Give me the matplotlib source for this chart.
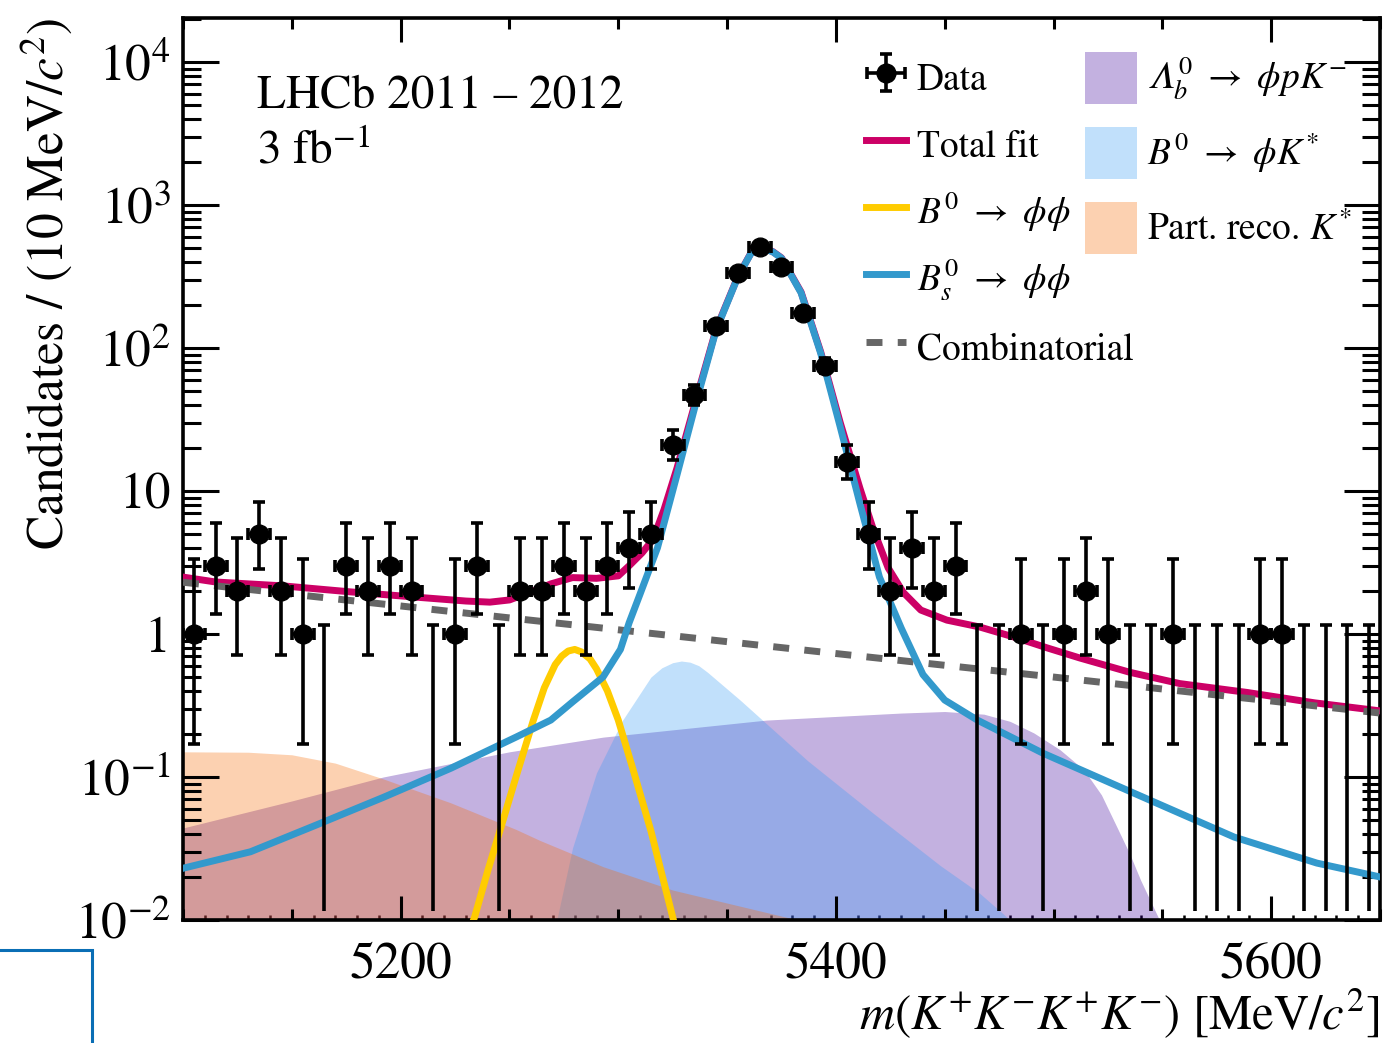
import numpy as np
import matplotlib
matplotlib.use('Agg')
import matplotlib.pyplot as plt
from matplotlib.ticker import MultipleLocator, LogLocator, NullFormatter
from matplotlib.patches import Rectangle

plt.rcParams['font.family'] = ['STIXGeneral', 'DejaVu Serif']
plt.rcParams['mathtext.fontset'] = 'stix'

# --- dane: histogram 10 MeV od 5100 ---
BIN_LO, BIN_W = 5100, 10
COUNTS = [1, 3, 2, 5, 2, 1, 0, 3, 2, 3,
          2, 0, 1, 3, 0, 2, 2, 3, 2, 3,
          4, 5, 21, 47, 142, 335, 510, 368, 176, 75,
          16, 5, 2, 4, 2, 3, 0, 0, 1, 0,
          1, 2, 1, 0, 0, 1, 0, 0, 0, 1,
          1, 0, 0, 0, 0]
ZERO_UP = 1.15  # górny błąd dla pustych binów

# --- krzywe fitu ---
TOT_X = [5100, 5115, 5146, 5177, 5207, 5230, 5241, 5250, 5260, 5269, 5279, 5290, 5300,
         5305, 5311, 5316, 5321, 5327, 5336, 5345, 5355, 5361, 5366, 5371, 5375, 5384,
         5393, 5402, 5411, 5417, 5424, 5431, 5439, 5451, 5466, 5482, 5497, 5512, 5535,
         5558, 5589, 5620, 5650]
TOT_Y = [2.50, 2.31, 2.17, 1.97, 1.81, 1.70, 1.67, 1.73, 1.97, 2.24, 2.48, 2.45, 2.55,
         3.0, 3.7, 4.6, 7.4, 14.5, 45, 136, 317, 462, 502, 472, 427, 246,
         94, 30, 10.5, 5.5, 2.9, 1.95, 1.47, 1.25, 1.12, 0.95, 0.80, 0.68, 0.54,
         0.45, 0.39, 0.33, 0.29]

BS_X = [5100, 5131, 5161, 5192, 5223, 5253, 5269, 5279, 5293, 5301, 5305, 5310, 5318,
        5327, 5336, 5345, 5355, 5361, 5366, 5371, 5375, 5384, 5393, 5402, 5411, 5420,
        5430, 5440, 5450, 5465, 5495, 5537, 5583, 5621, 5650]
BS_Y = [0.023, 0.030, 0.046, 0.072, 0.115, 0.19, 0.25, 0.335, 0.50, 0.78, 1.2, 1.9, 4.0,
        13.0, 43, 134, 315, 460, 500, 470, 425, 243, 92, 28, 8.2, 2.5,
        1.1, 0.52, 0.345, 0.25, 0.147, 0.077, 0.038, 0.025, 0.020]

B0_X = [5228, 5234, 5240, 5246, 5253, 5261, 5266, 5271, 5274, 5277, 5280, 5283, 5287,
        5290, 5295, 5300, 5307, 5315, 5320, 5325, 5330]
B0_Y = [0.006, 0.0105, 0.022, 0.044, 0.10, 0.25, 0.42, 0.61, 0.70, 0.76, 0.78, 0.75, 0.67,
        0.57, 0.40, 0.25, 0.11, 0.042, 0.021, 0.0105, 0.005]

COMB_X = [5100, 5200, 5300, 5400, 5500, 5600, 5650]
COMB_Y = [2.30, 1.57, 1.07, 0.73, 0.50, 0.34, 0.28]

LB_X = [5100, 5150, 5192, 5250, 5293, 5368, 5430, 5450, 5468, 5480, 5491, 5503, 5514,
        5522, 5529, 5535, 5540, 5548, 5556]
LB_Y = [0.044, 0.068, 0.10, 0.15, 0.19, 0.25, 0.28, 0.287, 0.275, 0.245, 0.203, 0.155,
        0.112, 0.075, 0.045, 0.029, 0.019, 0.0105, 0.005]

KST_X = [5268, 5272, 5279, 5290, 5302, 5315, 5320, 5325, 5329, 5333, 5337, 5341, 5356,
         5387, 5417, 5448, 5466, 5477, 5490]
KST_Y = [0.006, 0.0104, 0.032, 0.107, 0.25, 0.50, 0.58, 0.63, 0.647, 0.635, 0.60, 0.54,
         0.345, 0.13, 0.056, 0.024, 0.0154, 0.011, 0.007]

PR_X = [5100, 5130, 5150, 5170, 5192, 5223, 5253, 5264, 5293, 5325, 5379, 5420]
PR_Y = [0.150, 0.149, 0.143, 0.125, 0.097, 0.066, 0.043, 0.036, 0.0236, 0.0162, 0.0103,
        0.007]

YTICKS = [1e-2, 1e-1, 1, 10, 1e2, 1e3, 1e4]
YTICK_LABELS = ['$10^{-2}$', '$10^{-1}$', '1', '10', '$10^{2}$', '$10^{3}$', '$10^{4}$']
XTICKS = [5200, 5400, 5600]

C_TOT = '#cc0066'
C_BS = '#3399cc'
C_B0 = '#ffcc00'
C_COMB = '#666666'
C_LB = '#3e039b'
C_KST = '#379bf5'
C_PR = '#f86b03'
FILL_ALPHA = 0.31
YMIN, YMAX = 1e-2, 2.03e4


def poisson_band(n):
    # przybliżenie Gehrelsa dla przedziałów 68%
    n = np.asarray(n, float)
    lo = n * (1 - 1 / (9 * n) - 1 / (3 * np.sqrt(n))) ** 3
    hi = n + np.sqrt(n + 0.75) + 1
    return lo, hi


fig = plt.figure(figsize=(13.84, 10.43), dpi=100)
ax = fig.add_axes([183 / 1384, 1 - 920 / 1043, 1197 / 1384, 902 / 1043])
ax.set_yscale('log')
ax.set_xlim(5100, 5650)
ax.set_ylim(YMIN, YMAX)

# tła (wypełnienia)
h_lb = ax.fill_between(LB_X, 1e-3, LB_Y, color=C_LB, alpha=FILL_ALPHA, lw=0, zorder=1)
h_kst = ax.fill_between(KST_X, 1e-3, KST_Y, color=C_KST, alpha=FILL_ALPHA, lw=0, zorder=1)
h_pr = ax.fill_between(PR_X, 1e-3, PR_Y, color=C_PR, alpha=FILL_ALPHA, lw=0, zorder=1)

# krzywe
h_tot, = ax.plot(TOT_X, TOT_Y, color=C_TOT, lw=5, zorder=3)
h_comb, = ax.plot(COMB_X, COMB_Y, color=C_COMB, lw=5, ls=(0, (2.3, 2.2)), zorder=4)
h_b0, = ax.plot(B0_X, B0_Y, color=C_B0, lw=5, zorder=5)
h_bs, = ax.plot(BS_X, BS_Y, color=C_BS, lw=5, zorder=6)

# dane
counts = np.array(COUNTS)
centers = BIN_LO + BIN_W * (np.arange(len(counts)) + 0.5)
nz = counts > 0
lo, hi = poisson_band(counts[nz])
h_data = ax.errorbar(centers[nz], counts[nz], yerr=[counts[nz] - lo, hi - counts[nz]],
                     xerr=BIN_W / 2, fmt='o', color='k', ms=13.5, elinewidth=2.6,
                     capsize=4, capthick=2.6, zorder=10)
ax.vlines(centers[~nz], YMIN * ZERO_UP, ZERO_UP, color='k', lw=2.6, zorder=10)
ax.plot(centers[~nz], np.full((~nz).sum(), ZERO_UP), ls='none', marker='_', ms=8,
        mew=2.6, color='k', zorder=10)

# osie
for s in ax.spines.values():
    s.set_linewidth(2.6)
ax.set_yticks(YTICKS)
ax.set_yticklabels(YTICK_LABELS)
ax.yaxis.set_minor_locator(LogLocator(base=10, subs=np.arange(2, 10), numticks=20))
ax.yaxis.set_minor_formatter(NullFormatter())
ax.set_xticks(XTICKS)
ax.xaxis.set_minor_locator(MultipleLocator(50))
ax.tick_params(which='both', direction='in', top=True, right=True, width=2.2,
               labelsize=37)
ax.yaxis.set_tick_params(which='major', length=26, pad=9)
ax.yaxis.set_tick_params(which='minor', length=13)
ax.xaxis.set_tick_params(which='major', length=17, pad=16)
ax.xaxis.set_tick_params(which='minor', length=8)

sec = ax.secondary_xaxis('bottom')
sec.xaxis.set_major_locator(MultipleLocator(10))
sec.tick_params(direction='in', length=3.5, width=1.8, labelbottom=False)
sec.spines['bottom'].set_visible(False)

ax.set_xlabel(r'$m(K^{+}K^{-}K^{+}K^{-})$ [MeV/$c^{2}$]', fontsize=35, loc='right')
ax.xaxis.set_label_coords(1.0, -0.074)
ax.set_ylabel(r'Candidates / (10 MeV/$c^{2}$)', fontsize=37, loc='top')
ax.yaxis.set_label_coords(-0.09, 1.0)

fig.text(257 / 1384, 1 - 107 / 1043, 'LHCb 2011 – 2012', fontsize=34, va='baseline')
fig.text(257 / 1384, 1 - 163 / 1043, '3 fb$^{-1}$', fontsize=34, va='baseline')

leg1 = ax.legend([h_data, h_tot, h_b0, h_bs, h_comb],
                 ['Data', 'Total fit', r'$B^{0}\ \rightarrow\ \phi\phi$',
                  r'$B^{0}_{s}\ \rightarrow\ \phi\phi$', 'Combinatorial'],
                 loc='upper left', bbox_to_anchor=(866 / 1384, 1 - 55 / 1043),
                 bbox_transform=fig.transFigure, frameon=False, fontsize=27,
                 handlelength=1.07, handleheight=1.5, labelspacing=0.567,
                 handletextpad=0.28, borderpad=0, borderaxespad=0)
ax.add_artist(leg1)
ax.legend([h_lb, h_kst, h_pr],
          ['$\U0001D6EC^{0}_{b}\\ \\rightarrow\\ \\phi p K^{-}$',
           r'$B^{0}\ \rightarrow\ \phi K^{*}$', r'Part. reco. $K^{*}$'],
          loc='upper left', bbox_to_anchor=(1085 / 1384, 1 - 52 / 1043),
          bbox_transform=fig.transFigure, frameon=False, fontsize=27,
          handlelength=1.39, handleheight=1.757, labelspacing=0.613,
          handletextpad=0.26, borderpad=0, borderaxespad=0)

fig.add_artist(Rectangle((-0.01, -0.01), 92 / 1384 + 0.01, 93 / 1043 + 0.01,
                         transform=fig.transFigure, fill=False, edgecolor='#0a6eb5', lw=2.2))

fig.savefig('out.png', dpi=100)
